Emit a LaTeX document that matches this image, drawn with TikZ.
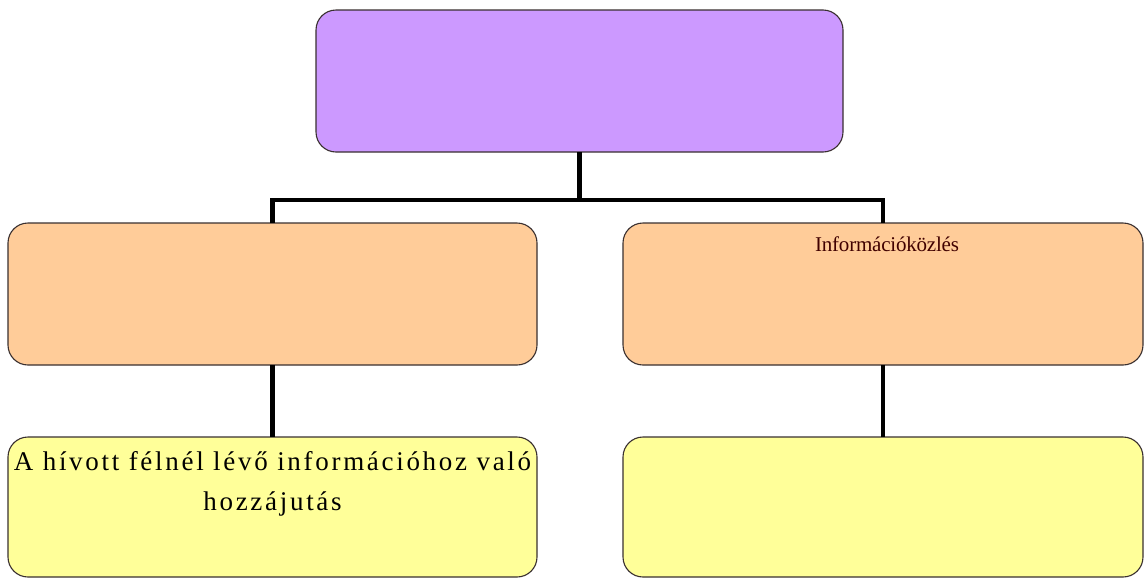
\documentclass[tikz,border=0pt]{standalone}
\usepackage{fontspec}
\setmainfont{Liberation Serif}
\newfontfamily\widefont[LetterSpace=10]{Liberation Serif}
\newfontfamily\tightfont[LetterSpace=-1]{Liberation Serif}
\definecolor{boxpurple}{HTML}{CC99FF}
\definecolor{boxorange}{HTML}{FFCC99}
\definecolor{boxyellow}{HTML}{FFFF99}
\definecolor{boxline}{HTML}{3A3030}
\begin{document}
\begin{tikzpicture}[x=1pt,y=-1pt,
  orgbox/.style={draw=boxline, line width=1.1pt, rounded corners=20pt},
  link/.style={line width=4.5pt, black},
  bigtext/.style={font=\widefont\fontsize{27}{40}\selectfont, anchor=base, inner sep=0pt}]
\useasboundingbox (0,0) rectangle (1145,579);
\fill[white] (0,0) rectangle (1145,579);
% boxes
\draw[orgbox, fill=boxpurple] (316,10) rectangle (843,152);
\coordinate (top-s) at (579.5,152);
\draw[orgbox, fill=boxorange] (8,223) rectangle (537,365);
\coordinate (l-n) at (272.5,223);
\coordinate (l-s) at (272.5,365);
\draw[orgbox, fill=boxorange] (623,223) rectangle (1143,365);
\coordinate (r-n) at (883,223);
\coordinate (r-s) at (883,365);
\draw[orgbox, fill=boxyellow] (8,437) rectangle (537,577);
\coordinate (ly-n) at (272.5,437);
\draw[orgbox, fill=boxyellow] (623,437) rectangle (1143,577);
\coordinate (ry-n) at (883,437);
% connectors
\coordinate (bar) at (579.5,200);
\draw[link] (top-s) -- (bar);
\draw[link] (l-n) |- (bar) -| (r-n);
\draw[link] (l-s) -- (ly-n);
\draw[link] (r-s) -- (ry-n);
% labels
\node[font=\tightfont\fontsize{21}{23}\selectfont, text=black!75!red, anchor=base, inner sep=0pt] (rlabel) at (887,251) {Információközlés};
\node[bigtext] (llabel1) at (272.5,470) {A hívott félnél lévő információhoz való};
\node[bigtext] (llabel2) at (272.5,510) {hozzájutás};
\end{tikzpicture}
\end{document}
